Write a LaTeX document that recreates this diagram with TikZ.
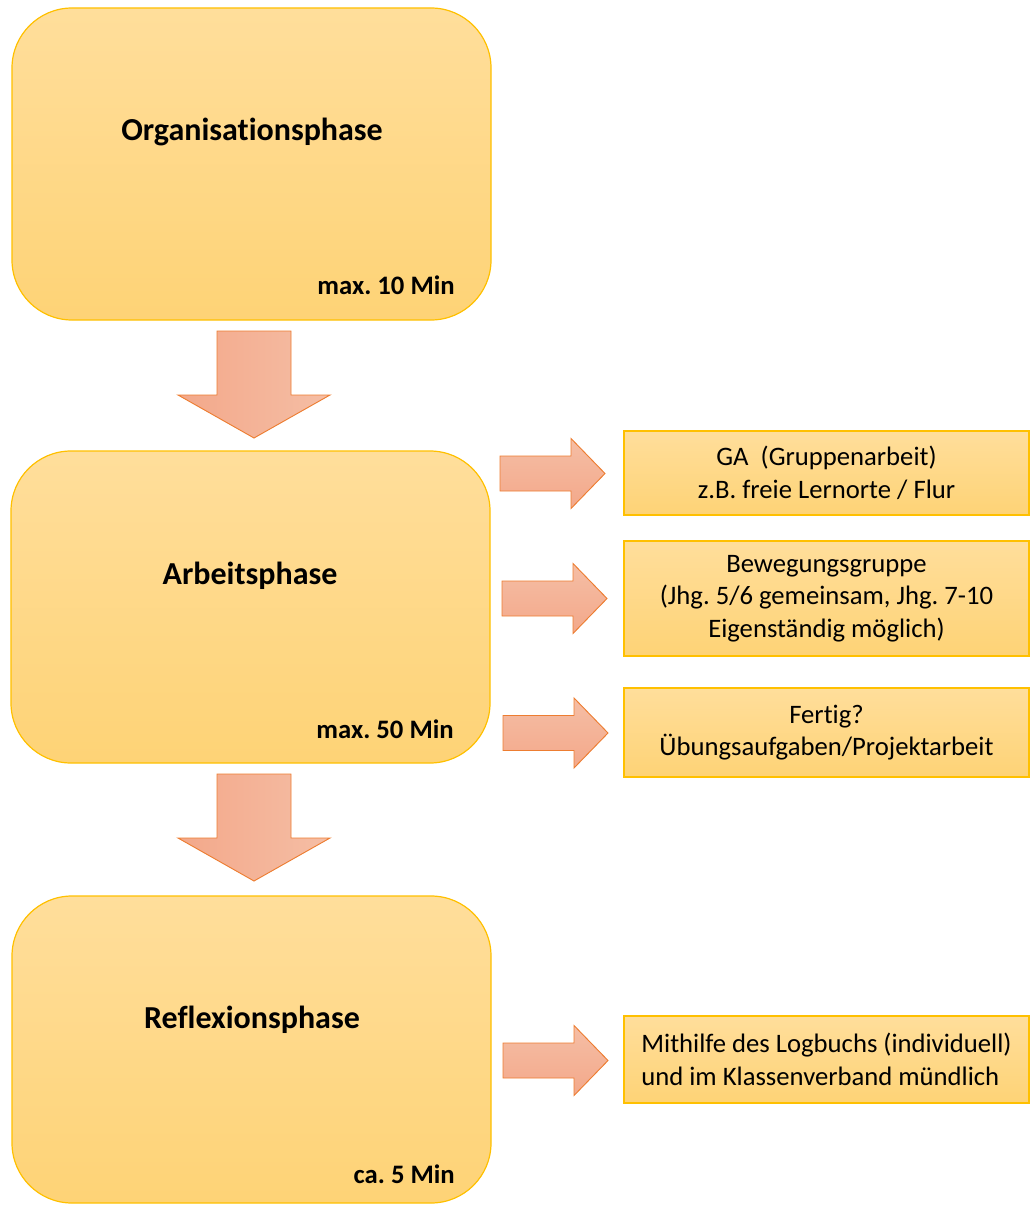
\documentclass[tikz,border=0pt]{standalone}
\usepackage{fontspec}
\setmainfont[RawFeature={-liga}]{Carlito}
\usetikzlibrary{positioning}
\definecolor{boxtop}{RGB}{255,222,155}
\definecolor{boxbot}{RGB}{254,211,118}
\definecolor{boxline}{RGB}{255,192,0}
\definecolor{arrdark}{RGB}{243,168,138}
\definecolor{arrlight}{RGB}{245,190,165}
\definecolor{arrline}{RGB}{237,125,49}
\tikzset{
	phase/.style={draw=boxline,line width=0.9pt,rounded corners=45pt,top color=boxtop,bottom color=boxbot,minimum width=359.25pt,minimum height=234pt},
	info/.style={draw=boxline,line width=0.9pt,top color=boxtop,bottom color=boxbot,minimum width=303.75pt,align=center,font=\fontsize{20}{24.4}\selectfont},
	title/.style={font=\fontsize{24}{29}\selectfont\bfseries},
	dur/.style={anchor=east,inner sep=0pt,font=\fontsize{20}{24}\selectfont\bfseries},
	blockarrow/.style={draw=arrline,line width=0.7pt},
	downarr/.pic={\path[blockarrow,left color=arrdark,right color=arrlight] (-37,0) -- (37,0) -- (37,64) -- (76,64) -- (0,107) -- (-76,64) -- (-37,64) -- cycle;},
	rightarr/.pic={\path[blockarrow,top color=arrlight,bottom color=arrdark] (0,-17.5) -- (71,-17.5) -- (71,-35) -- (105,0) -- (71,35) -- (71,17.5) -- (0,17.5) -- cycle;}
}
\begin{document}
\frenchspacing
\begin{tikzpicture}[x=0.75pt,y=-0.75pt]
	\useasboundingbox (0,0) rectangle (1029,1205);
	% phases
	\node[phase] (org) at (251.5,164) {};
	\node[phase] (arb) at (250.5,607) {};
	\node[phase,minimum height=230.25pt] (ref) at (251.5,1049.5) {};
	\node[title] (orgt) at (252,132) {Organisationsphase};
	\node[title] (arbt) at (250,576) {Arbeitsphase};
	\node[title] (reft) at (252,1020) {Reflexionsphase};
	\node[dur] (orgd) at (455,285) {max. 10 Min};
	\node[dur] (arbd) at (454,729) {max. 50 Min};
	\node[dur] (refd) at (455,1174) {ca. 5 Min};
	
	% side boxes
	\node[info,minimum height=63pt] (ga) at (826.5,473) {GA\ \ (Gruppenarbeit)\\z.B. freie Lernorte / Flur};
	\node[info,minimum height=86.25pt] (bew) at (826.5,598.5) {Bewegungsgruppe\\(Jhg. 5/6 gemeinsam, Jhg. 7-10\\Eigenständig möglich)};
	\node[info,minimum height=66.75pt] (fer) at (826.5,732.5) {Fertig?\\Übungsaufgaben/Projektarbeit};
	\node[info,minimum height=65.25pt,align=left] (log) at (826.5,1059.5) {Mithilfe des Logbuchs (individuell)\\und im Klassenverband mündlich};
	
	% arrows
	\pic at (254,331) {downarr};
	\pic at (254,774) {downarr};
	\pic at (500,473.5) {rightarr};
	\pic at (502,598.5) {rightarr};
	\pic at (503,733) {rightarr};
	\pic at (503,1060.5) {rightarr};
\end{tikzpicture}
\end{document}
